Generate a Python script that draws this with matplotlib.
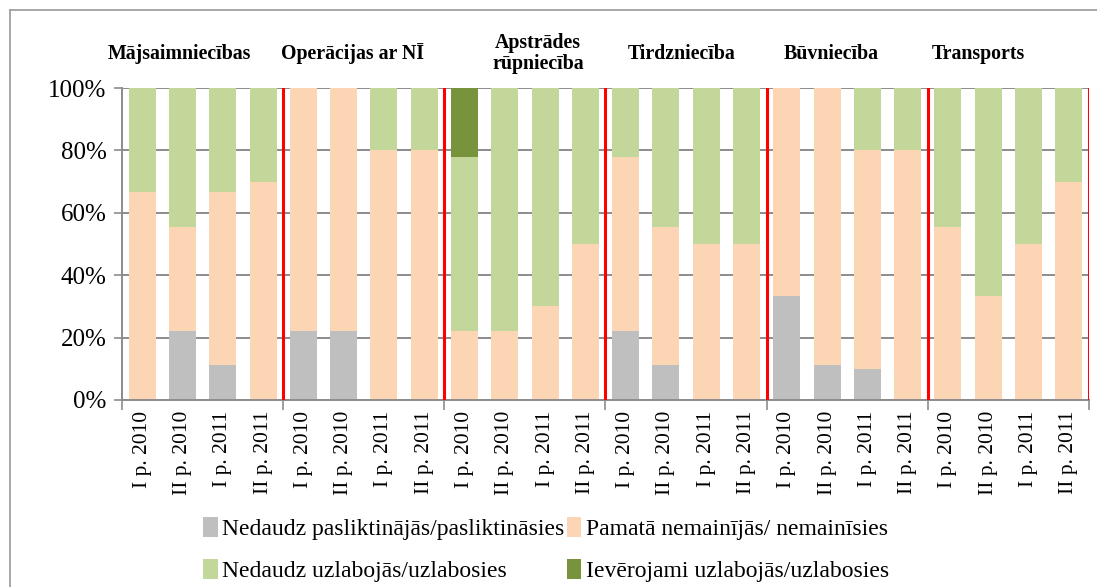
import numpy as np
import matplotlib.pyplot as plt
from matplotlib.lines import Line2D

plt.rcParams['font.family'] = ['Liberation Serif', 'DejaVu Serif']

groups = ['Mājsaimniecības', 'Operācijas ar NĪ', 'Apstrādes\nrūpniecība',
          'Tirdzniecība', 'Būvniecība', 'Transports']
periods = ['I p. 2010', 'II p. 2010', 'I p. 2011', 'II p. 2011']

series_names = ['Nedaudz pasliktinājās/pasliktināsies',
                'Pamatā nemainījās/ nemainīsies',
                'Nedaudz uzlabojās/uzlabosies',
                'Ievērojami uzlabojās/uzlabosies']
colors = ['#bfbfbf', '#fcd5b5', '#c4d79b', '#77933c']

worse = [0, 22.2, 11.1, 0,
         22.2, 22.2, 0, 0,
         0, 0, 0, 0,
         22.2, 11.1, 0, 0,
         33.3, 11.1, 10, 0,
         0, 0, 0, 0]
same = [66.7, 33.3, 55.6, 70,
        77.8, 77.8, 80, 80,
        22.2, 22.2, 30, 50,
        55.6, 44.4, 50, 50,
        66.7, 88.9, 70, 80,
        55.6, 33.3, 50, 70]
better = [33.3, 44.4, 33.3, 30,
          0, 0, 20, 20,
          55.6, 77.8, 70, 50,
          22.2, 44.4, 50, 50,
          0, 0, 20, 20,
          44.4, 66.7, 50, 30]
much_better = [0, 0, 0, 0,
               0, 0, 0, 0,
               22.2, 0, 0, 0,
               0, 0, 0, 0,
               0, 0, 0, 0,
               0, 0, 0, 0]

# the group titles are not exactly centred over their groups
title_shift = [-0.58, -0.28, 0.33, -0.1, -0.4, -0.75]

fig = plt.figure(figsize=(10.97, 5.87), dpi=100)
# outer frame: only top and left edges are visible
fig.lines.append(Line2D([0.0095, 1.0], [0.983, 0.983], transform=fig.transFigure,
                        color='#a0a0a0', linewidth=1.3))
fig.lines.append(Line2D([0.0095, 0.0095], [0.0, 0.983], transform=fig.transFigure,
                        color='#a0a0a0', linewidth=1.3))
ax = fig.add_axes([0.1112, 0.3186, 0.8815, 0.5314])

x = np.arange(len(worse))
bottom = np.zeros(len(x))
bars = []
for vals, col, name in zip([worse, same, better, much_better], colors, series_names):
    v = np.array(vals)
    bars.append(ax.bar(x, v, 0.67, bottom=bottom, color=col, label=name, zorder=2))
    bottom += v

ax.set_xlim(-0.5, len(x) - 0.5)
ax.set_ylim(0, 100)
ax.set_yticks(np.arange(0, 101, 20))
ax.set_yticklabels([f'{v}%' for v in range(0, 101, 20)], fontsize=18)
ax.yaxis.grid(True, color='#8c8c8c', linewidth=1.4, zorder=1)
ax.set_axisbelow(True)

for b in np.arange(3.5, len(x), 4):
    ax.axvline(b, color='#ff0000', linewidth=2.2, zorder=3)

ax.set_xticks(np.arange(-0.5, len(x), 4))
ax.set_xticklabels([])
ax.set_xticks(x, minor=True)
ax.set_xticklabels(periods * len(groups), minor=True, rotation=90, fontsize=15.5)
ax.tick_params(axis='x', which='major', length=7, color='#8c8c8c', width=1.2)
ax.tick_params(axis='x', which='minor', length=0, pad=8)
ax.tick_params(axis='y', length=6, color='#8c8c8c', width=1.2, pad=5)

for s in ['top', 'right']:
    ax.spines[s].set_visible(False)
for s in ['left', 'bottom']:
    ax.spines[s].set_color('#8c8c8c')
    ax.spines[s].set_linewidth(1.4)

for i, g in enumerate(groups):
    ax.text(i * 4 + 1.5 + title_shift[i], 111, g, ha='center', va='center',
            fontsize=14.3, fontweight='bold', linespacing=1.05)

# order so that rows read: gray, peach / light green, dark green
order = [0, 2, 1, 3]
fig.legend([bars[i] for i in order], [series_names[i] for i in order],
           loc='lower left', bbox_to_anchor=(0.166, -0.028), ncol=2, frameon=False,
           fontsize=17, handlelength=0.6, handleheight=0.9, handletextpad=0.2,
           columnspacing=0.1, labelspacing=0.8)

fig.savefig('out.png', dpi=100)
